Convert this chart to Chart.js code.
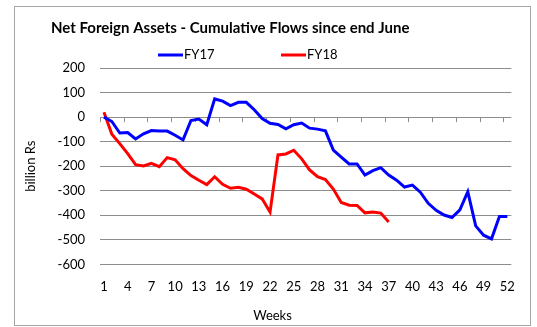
<!DOCTYPE html>
<html>
<head>
<meta charset="utf-8">
<script src="https://cdn.jsdelivr.net/npm/chart.js@4/dist/chart.umd.min.js"></script>
<style>
  body { margin: 0; background: #fff; }
  #frame {
    position: absolute; left: 14px; top: 6px;
    width: 517px; height: 320px;
    box-sizing: border-box; border: 1px solid #a6a6a6;
  }
  #nfaChart { display: block; }
</style>
</head>
<body>
<div id="frame"><canvas id="nfaChart" width="515" height="318"></canvas></div>
<script>
// weekly cumulative NFA flows, billion Rs
var weeks = [1, 2, 3, 4, 5, 6, 7, 8, 9, 10, 11, 12, 13, 14, 15, 16, 17, 18, 19, 20,
             21, 22, 23, 24, 25, 26, 27, 28, 29, 30, 31, 32, 33, 34, 35, 36, 37, 38, 39, 40,
             41, 42, 43, 44, 45, 46, 47, 48, 49, 50, 51, 52];

var fy17 = [0, -18, -65, -63, -89, -68, -55, -57, -57, -74,
            -93, -14, -8, -31, 74, 65, 47, 60, 60, 30,
            -6, -25, -30, -48, -31, -24, -45, -49, -56, -134,
            -163, -191, -191, -236, -218, -206, -236, -257, -285, -277,
            -306, -351, -380, -399, -409, -378, -304, -443, -481, -496,
            -405, -405];

var fy18 = [20, -70, -108, -149, -194, -199, -188, -202, -165, -174,
            -210, -238, -257, -275, -243, -274, -290, -286, -294, -313,
            -333, -387, -154, -150, -135, -170, -215, -243, -254, -293,
            -348, -359, -360, -390, -387, -391, -427];

var seriesNames = ['FY17', 'FY18'];
var seriesColors = ['#0000ff', '#ff0000'];
var yTicks = [200, 100, 0, -100, -200, -300, -400, -500, -600];

var chartTitle = 'Net Foreign Assets - Cumulative Flows since end June';
var xTitle = 'Weeks';
var yTitle = 'billion Rs';

var FONT = 'Lato';

// title, legend, x title and the little tick marks hanging off the zero line
var decorations = {
    id: 'decorations',
    beforeDatasetsDraw: function(chart) {
        var ctx = chart.ctx;
        var xs = chart.scales.x, ys = chart.scales.y;
        var step = xs.width / weeks.length;
        var y0 = ys.getPixelForValue(0);
        ctx.save();
        ctx.strokeStyle = '#8c8c8c';
        ctx.lineWidth = 1;
        for (var k = 0; k <= weeks.length; k += 3) {
            var x = Math.round(xs.left + k * step) + 0.5;
            ctx.beginPath();
            ctx.moveTo(x, y0);
            ctx.lineTo(x, y0 + 5);
            ctx.stroke();
        }
        ctx.restore();
    },
    afterDraw: function(chart) {
        var ctx = chart.ctx;
        ctx.save();
        ctx.fillStyle = '#000';
        ctx.textBaseline = 'middle';

        ctx.font = 'bold 15px ' + FONT;
        ctx.textAlign = 'left';
        ctx.fillText(chartTitle, 36, 21);

        ctx.font = '13px ' + FONT;
        var lx = 143;
        for (var i = 0; i < seriesNames.length; i++) {
            ctx.strokeStyle = seriesColors[i];
            ctx.lineWidth = 3;
            ctx.beginPath();
            ctx.moveTo(lx, 48);
            ctx.lineTo(lx + 25, 48);
            ctx.stroke();
            ctx.fillText(seriesNames[i], lx + 26, 48);
            lx += 123;
        }

        ctx.textAlign = 'center';
        ctx.fillText(xTitle, chart.width / 2, 309);
        ctx.restore();
    }
};

var ctxL = document.getElementById('nfaChart').getContext('2d');
var nfaChart = new Chart(ctxL, {
    type: 'line',
    data: {
        labels: weeks,
        datasets: [
            {
                label: seriesNames[0],
                data: fy17,
                borderColor: seriesColors[0],
                backgroundColor: seriesColors[0],
                borderWidth: 3,
                pointRadius: 0,
                tension: 0
            },
            {
                label: seriesNames[1],
                data: fy18,
                borderColor: seriesColors[1],
                backgroundColor: seriesColors[1],
                borderWidth: 3,
                pointRadius: 0,
                tension: 0
            }
        ]
    },
    options: {
        responsive: false,
        animation: false,
        layout: { padding: { top: 61, right: 13, bottom: 15, left: 8 } },
        plugins: {
            legend: { display: false },
            title: { display: false },
            tooltip: { enabled: false }
        },
        scales: {
            x: {
                offset: true,
                grid: { display: false, drawTicks: false },
                border: { display: false },
                ticks: {
                    autoSkip: false,
                    maxRotation: 0,
                    padding: 15,
                    color: '#000',
                    font: { family: FONT, size: 13 },
                    callback: function(value, index) {
                        return index % 3 === 0 ? weeks[index] : '';
                    }
                }
            },
            y: {
                min: yTicks[yTicks.length - 1],
                max: yTicks[0],
                grid: { color: '#8c8c8c', drawTicks: false },
                border: { display: false },
                ticks: {
                    stepSize: 100,
                    padding: 15,
                    color: '#000',
                    font: { family: FONT, size: 13 }
                },
                title: {
                    display: true,
                    text: yTitle,
                    color: '#000',
                    padding: 0,
                    font: { family: FONT, size: 13 }
                },
                afterFit: function(axis) { axis.width = 77; }
            }
        }
    },
    plugins: [decorations]
});
</script>
</body>
</html>
